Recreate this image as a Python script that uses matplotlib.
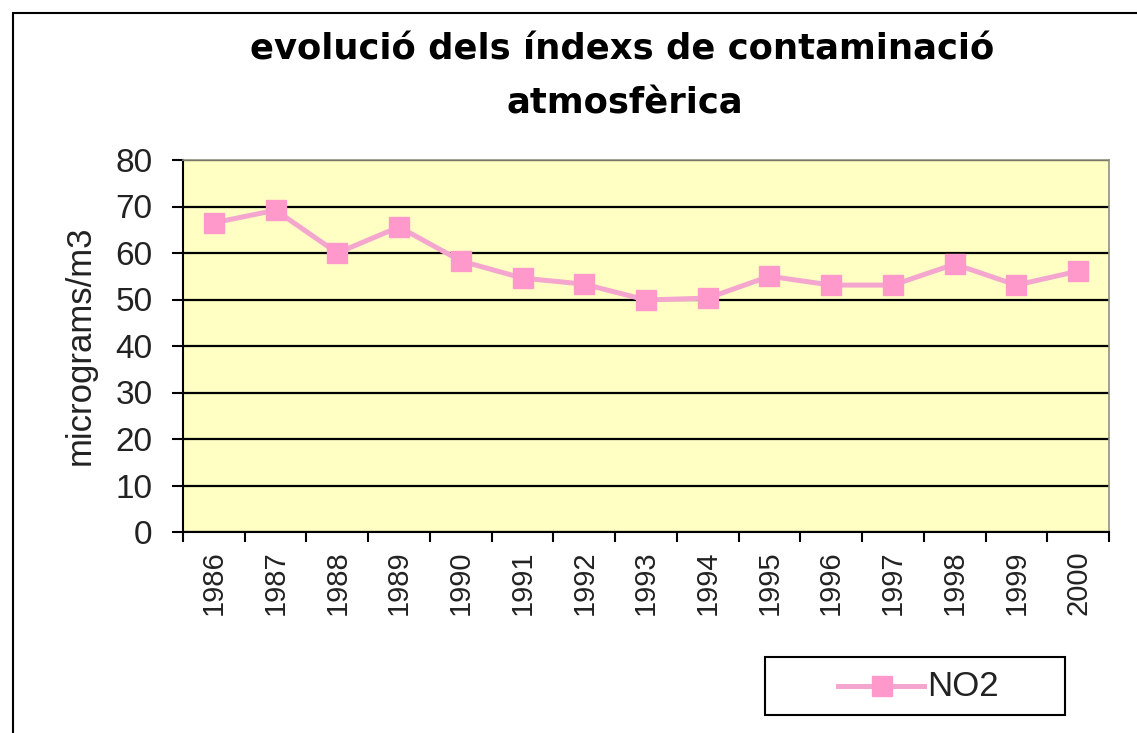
import matplotlib
matplotlib.use("Agg")
import matplotlib.pyplot as plt
from matplotlib.patches import Rectangle
from matplotlib.lines import Line2D

years = ["1986", "1987", "1988", "1989", "1990", "1991", "1992", "1993",
         "1994", "1995", "1996", "1997", "1998", "1999", "2000"]
no2 = [66.5, 69.2, 60.0, 65.6, 58.3, 54.6, 53.3, 49.9, 50.3, 55.0, 53.1, 53.1, 57.6, 53.1, 56.1]
yticks = [0, 10, 20, 30, 40, 50, 60, 70, 80]

plt.rcParams['font.family'] = ['Liberation Sans', 'DejaVu Sans']

W, H = 1137, 733
fig = plt.figure(figsize=(W / 100, H / 100), dpi=100)
fig.patch.set_facecolor('white')

# outer chart frame (cropped at right/bottom)
fig.patches.append(Rectangle((13 / W, -0.1), 1.2, 1 - 13 / H + 0.1, transform=fig.transFigure,
                             fill=False, edgecolor='black', linewidth=1.5, zorder=0))

ax = fig.add_axes([183 / W, 1 - 532 / H, (1109 - 183) / W, (532 - 160) / H])
ax.set_facecolor('#FFFFC4')

x = list(range(len(years)))
line_col = '#F4A6CF'
mark_col = '#FF99CC'
ax.plot(x, no2, color=line_col, linewidth=3.6, marker='s', markersize=14.5,
        markerfacecolor=mark_col, markeredgecolor=mark_col, zorder=3, label='NO2')

ax.set_xlim(-0.5, len(years) - 0.5)
ax.set_ylim(0, 80)
ax.set_yticks(yticks)
ax.set_yticklabels([str(v) for v in yticks], fontsize=24, color='#222222')
ax.yaxis.grid(True, color='black', linewidth=1.6)
ax.set_axisbelow(True)

ax.set_xticks([i - 0.5 for i in range(len(years) + 1)], minor=False)
ax.set_xticklabels([])
ax.set_xticks(x, minor=True)
ax.set_xticklabels(years, minor=True, rotation=90, fontsize=21, color='#222222')
ax.tick_params(axis='x', which='minor', length=0, pad=13)
ax.tick_params(axis='x', which='major', length=7, width=1.5, direction='out')
ax.tick_params(axis='y', length=8, width=1.5, direction='out', pad=14)

for s in ['top', 'right']:
    ax.spines[s].set_color('#909080')
    ax.spines[s].set_linewidth(1.2)
for s in ['left', 'bottom']:
    ax.spines[s].set_color('black')
    ax.spines[s].set_linewidth(1.5)

ax.set_ylabel('micrograms/m3', fontsize=25, color='#222222')
ax.yaxis.set_label_coords((80 - 183) / 926, (532 - 345) / 372)
ax.yaxis.label.set_va('center')

fig.text(622 / W, 1 - 50 / H, 'evolució dels índexs de contaminació', ha='center', va='center',
         fontsize=25.5, fontweight='bold', family=['DejaVu Sans'])
fig.text(625 / W, 1 - 103 / H, 'atmosfèrica', ha='center', va='center',
         fontsize=25.5, fontweight='bold', family=['DejaVu Sans'])

# legend box
fig.patches.append(Rectangle((765 / W, 1 - 715 / H), 300 / W, 58 / H, transform=fig.transFigure,
                             facecolor='white', edgecolor='black', linewidth=1.5))
fig.lines.append(Line2D([838 / W, 924 / W], [1 - 686 / H] * 2, transform=fig.transFigure,
                        color=line_col, linewidth=3.6))
fig.lines.append(Line2D([882 / W], [1 - 686 / H], transform=fig.transFigure, marker='s',
                        markersize=14.5, color=mark_col, linestyle='none'))
fig.text(927 / W, 1 - 687 / H, 'NO2', ha='left', va='center', fontsize=25, color='#222222')

fig.savefig('out.png', dpi=100)
